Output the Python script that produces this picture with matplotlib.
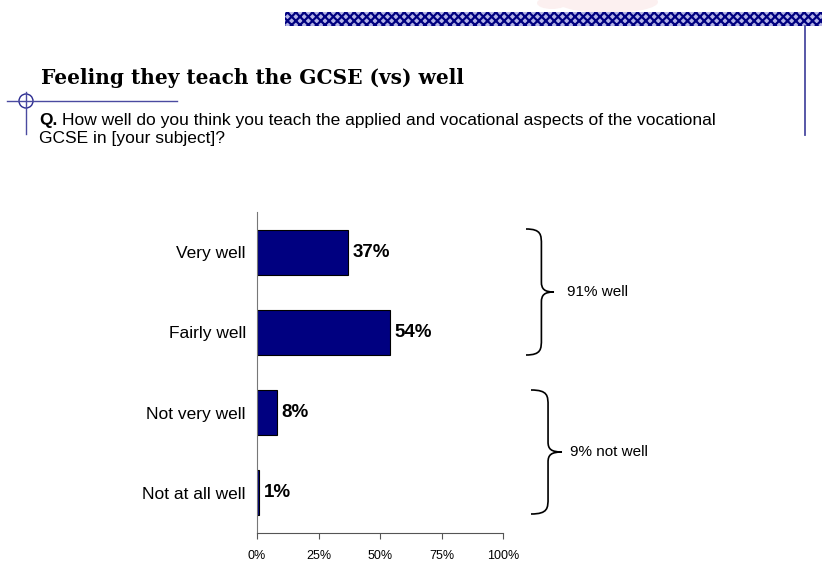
import matplotlib
matplotlib.use("Agg")
import matplotlib.pyplot as plt
from matplotlib.patches import Rectangle, Circle, Ellipse
from matplotlib.path import Path
from matplotlib.patches import PathPatch

# data
categories = ["Very well", "Fairly well", "Not very well", "Not at all well"]
values = [37, 54, 8, 1]
xticks = [0, 25, 50, 75, 100]
xtick_labels = ["0%", "25%", "50%", "75%", "100%"]
title = "Feeling they teach the GCSE (vs) well"
question = ["How well do you think you teach the applied and vocational aspects of the vocational",
            "GCSE in [your subject]?"]
group_labels = ["91% well", "9% not well"]

plt.rcParams['font.family'] = ['Liberation Sans', 'DejaVu Sans']
plt.rcParams['hatch.linewidth'] = 1.6
NAVY = "#000080"

W, H = 822, 562
fig = plt.figure(figsize=(W / 100, H / 100), dpi=100)

# overlay in pixel coordinates for page decorations
deco = fig.add_axes([0, 0, 1, 1])
deco.set_xlim(0, W)
deco.set_ylim(H, 0)
deco.axis("off")

# faint logo watermark behind the band
deco.add_patch(Ellipse((608, 2), 100, 22, facecolor="#fcf0f0", edgecolor="none"))
deco.add_patch(Ellipse((552, 3), 30, 12, facecolor="#fcf0f0", edgecolor="none"))

# hatched band on top
deco.add_patch(Rectangle((285, 12), W - 285, 14, facecolor="#b4b4e6", edgecolor=NAVY,
                         hatch="xxxx", linewidth=0))
# right vertical rule
deco.plot([805, 805], [26, 135], color="#4a4aa0", lw=1.3)
# left crosshair
deco.plot([7, 177], [101, 101], color="#4a4aa0", lw=1.0)
deco.plot([26, 26], [92, 134], color="#4a4aa0", lw=1.0)
deco.add_patch(Circle((26, 101), 7, fill=False, edgecolor="#2a2a90", lw=1.0))

deco.text(41, 78, title, family="DejaVu Serif", fontweight="bold", fontsize=14.5,
          va="center", ha="left")
q = deco.text(39, 121, "Q.", fontweight="bold", fontsize=12.5, va="center", ha="left")
deco.annotate(question[0], xy=(1, 0.5), xycoords=q, xytext=(3, 0),
              textcoords="offset points", fontsize=12.5, va="center", ha="left")
deco.text(39, 138, question[1], fontsize=12.5, va="center", ha="left")


def brace(x0, y0, y1, tip):
    # curly brace opening to the left, tip pointing right
    ym = (y0 + y1) / 2
    xv = x0 + (tip - x0) * 0.55
    verts = [(x0, y0), (xv, y0), (xv, y0 + 6), (xv, y0 + 16),
             (xv, ym - 10),
             (xv, ym - 3), (xv + 3, ym), (tip, ym),
             (xv + 3, ym), (xv, ym + 3), (xv, ym + 10),
             (xv, y1 - 16),
             (xv, y1 - 6), (xv, y1), (x0, y1)]
    codes = [Path.MOVETO, Path.CURVE4, Path.CURVE4, Path.CURVE4,
             Path.LINETO,
             Path.CURVE4, Path.CURVE4, Path.CURVE4,
             Path.CURVE4, Path.CURVE4, Path.CURVE4,
             Path.LINETO,
             Path.CURVE4, Path.CURVE4, Path.CURVE4]
    deco.add_patch(PathPatch(Path(verts, codes), fill=False, lw=1.2, edgecolor="black"))


brace(526, 229, 355, 554)
deco.text(567, 292, group_labels[0], fontsize=11, va="center", ha="left")
brace(531, 390, 514, 562)
deco.text(570, 452, group_labels[1], fontsize=11, va="center", ha="left")

# main chart
ax = fig.add_axes([257 / W, 1 - 533 / H, (503 - 257) / W, (533 - 212) / H])
ypos = list(range(len(categories)))
ax.barh(ypos, values, height=0.56, color=NAVY, edgecolor="black", linewidth=0.8)
for y, v in zip(ypos, values):
    ax.text(v + 1.8, y, f"{v}%", fontweight="bold", fontsize=13.5, va="center", ha="left")

ax.set_xlim(0, 100)
ax.set_ylim(len(categories) - 0.5, -0.5)
ax.set_yticks(ypos)
ax.set_yticklabels(categories, fontsize=12.5)
ax.tick_params(axis="y", length=0, pad=8)
ax.set_xticks(xticks)
ax.set_xticklabels(xtick_labels, fontsize=9)
ax.tick_params(axis="x", length=4, direction="out", color="#555555", pad=8)
for s in ["top", "right"]:
    ax.spines[s].set_visible(False)
ax.spines["left"].set_color("#777777")
ax.spines["bottom"].set_color("#555555")
ax.patch.set_alpha(0)

fig.savefig("out.png", dpi=100)
